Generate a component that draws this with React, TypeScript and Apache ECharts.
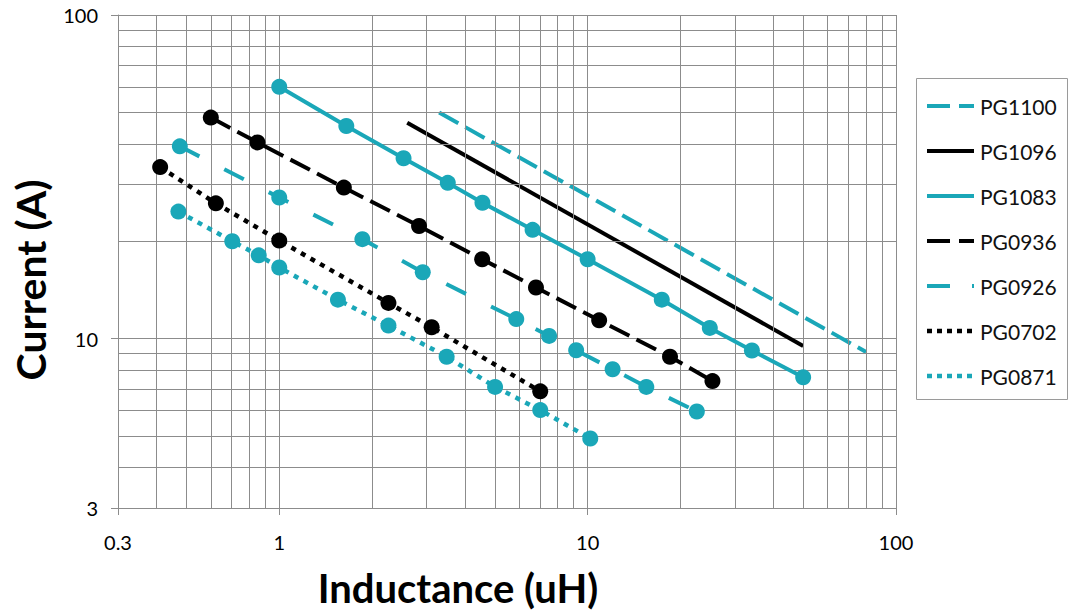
import React, { useEffect, useRef } from "react";
import * as echarts from "echarts";

// ---- data ----
const pg1100X = [3.3, 80];
const pg1100Y = [50, 9.1];
const pg1096X = [2.6, 50];
const pg1096Y = [46.5, 9.5];
const pg1083X = [1, 1.65, 2.53, 3.52, 4.56, 6.63, 10, 17.4, 24.9, 34.1, 50];
const pg1083Y = [60, 45.4, 36.1, 30.3, 26.3, 21.7, 17.6, 13.2, 10.8, 9.2, 7.6];
const pg0936X = [0.6, 0.85, 1.62, 2.84, 4.55, 6.8, 10.9, 18.5, 25.4];
const pg0936Y = [48.2, 40.4, 29.3, 22.3, 17.6, 14.4, 11.4, 8.8, 7.4];
const pg0926X = [0.476, 1, 1.86, 2.92, 5.87, 7.5, 9.18, 12.05, 15.5, 22.6];
const pg0926Y = [39.3, 27.3, 20.3, 16.05, 11.5, 10.2, 9.21, 8.05, 7.1, 5.96];
const pg0702X = [0.411, 0.623, 1, 2.26, 3.12, 7.02];
const pg0702Y = [33.9, 26.2, 20.1, 12.9, 10.85, 6.88];
const pg0871X = [0.471, 0.704, 0.858, 1, 1.55, 2.26, 3.49, 5.01, 7.02, 10.2];
const pg0871Y = [24.7, 20.0, 18.1, 16.6, 13.2, 10.98, 8.8, 7.1, 6.02, 4.92];

const seriesNames = ["PG1100", "PG1096", "PG1083", "PG0936", "PG0926", "PG0702", "PG0871"];

// gridline positions (minor decades)
const minorGridX = [0.4, 0.5, 0.6, 0.7, 0.8, 0.9, 2, 3, 4, 5, 6, 7, 8, 9, 20, 30, 40, 50, 60, 70, 80, 90];
const minorGridY = [4, 5, 6, 7, 8, 9, 20, 30, 40, 50, 60, 70, 80, 90];

const xAxisMin = 0.3;
const xAxisMax = 100;
const yAxisMin = 3;
const yAxisMax = 100;

const TEAL = "#1aa7b8";
const BLACK = "#000000";
const GRID = "#8c8c8c";
const FONT = "Lato, 'Open Sans', sans-serif";

const defs = [
  { name: seriesNames[0], x: pg1100X, y: pg1100Y, color: TEAL, width: 4, dash: [22, 8] as any, legendDash: [23, 9] as any, marker: false },
  { name: seriesNames[1], x: pg1096X, y: pg1096Y, color: BLACK, width: 4, dash: "solid" as any, legendDash: null, marker: false },
  { name: seriesNames[2], x: pg1083X, y: pg1083Y, color: TEAL, width: 4, dash: "solid" as any, legendDash: null, marker: true },
  { name: seriesNames[3], x: pg0936X, y: pg0936Y, color: BLACK, width: 4, dash: [22, 8] as any, legendDash: [23, 9] as any, marker: true },
  { name: seriesNames[4], x: pg0926X, y: pg0926Y, color: TEAL, width: 4, dash: [22, 28] as any, legendDash: [23, 22, 3, 22] as any, marker: true },
  { name: seriesNames[5], x: pg0702X, y: pg0702Y, color: BLACK, width: 4.5, dash: [5, 6] as any, legendDash: [5, 5] as any, marker: true },
  { name: seriesNames[6], x: pg0871X, y: pg0871Y, color: TEAL, width: 4.5, dash: [5, 6] as any, legendDash: [5, 5] as any, marker: true },
];

const fmt = (v: number) => String(Number(Number(v).toPrecision(6)));

export default function App() {
  const ref = useRef<HTMLDivElement>(null);

  useEffect(() => {
    if (!ref.current) return;
    const chart = echarts.init(ref.current, undefined, { renderer: "svg" });

    const gridSeries: any = {
      name: "grid",
      type: "line",
      data: [],
      silent: true,
      z: 1,
      markLine: {
        silent: true,
        symbol: ["none", "none"],
        label: { show: false },
        animation: false,
        lineStyle: { color: GRID, width: 1, type: "solid" },
        emphasis: { disabled: true },
        data: [
          ...minorGridX.map((v) => ({ xAxis: v })),
          ...minorGridY.map((v) => ({ yAxis: v })),
        ],
      },
    };

    const dataSeries = defs.map((d, idx) => ({
      name: d.name,
      type: "line",
      z: 3 + idx,
      data: d.x.map((xv, i) => [xv, d.y[i]]),
      symbol: d.marker ? "circle" : "none",
      symbolSize: 16,
      showSymbol: d.marker,
      showAllSymbol: true,
      lineStyle: { color: d.color, width: d.width, type: d.dash, cap: "butt" },
      itemStyle: { color: d.color },
      emphasis: { disabled: true },
    }));

    const legendTop = 106;
    const legendStep = 45;
    const legendChildren: any[] = [
      {
        type: "rect",
        shape: { x: 916.5, y: 78.5, width: 151, height: 321 },
        style: { fill: "#ffffff", stroke: "#9a9a9a", lineWidth: 1 },
      },
    ];
    defs.forEach((d, i) => {
      const y = legendTop + i * legendStep;
      legendChildren.push({
        type: "line",
        shape: { x1: 927, y1: y, x2: 974, y2: y },
        style: {
          stroke: d.color,
          lineWidth: d.width,
          lineDash: d.legendDash || undefined,
          lineCap: "butt",
        },
      });
      legendChildren.push({
        type: "text",
        x: 980,
        y: y,
        style: {
          text: d.name,
          fontFamily: FONT,
          fontSize: 21,
          fill: "#111111",
          align: "left",
          verticalAlign: "middle",
        },
      });
    });

    chart.setOption({
      animation: false,
      backgroundColor: "#ffffff",
      grid: { left: 118, top: 15, right: 179, bottom: 108, containLabel: false },
      xAxis: {
        type: "log",
        logBase: 10,
        min: xAxisMin,
        max: xAxisMax,
        axisLine: { show: true, lineStyle: { color: GRID, width: 1 } },
        axisTick: { show: true, length: 7, lineStyle: { color: GRID, width: 1 } },
        axisLabel: {
          show: true,
          margin: 24,
          color: "#000",
          fontFamily: FONT,
          fontSize: 20,
          showMinLabel: true,
          showMaxLabel: true,
          formatter: fmt,
        },
        splitLine: { show: true, lineStyle: { color: GRID, width: 1 } },
        minorTick: { show: false },
        minorSplitLine: { show: false },
      },
      yAxis: {
        type: "log",
        logBase: 10,
        min: yAxisMin,
        max: yAxisMax,
        axisLine: { show: true, lineStyle: { color: GRID, width: 1 } },
        axisTick: { show: true, length: 7, lineStyle: { color: GRID, width: 1 } },
        axisLabel: {
          show: true,
          margin: 20,
          color: "#000",
          fontFamily: FONT,
          fontSize: 20,
          showMinLabel: true,
          showMaxLabel: true,
          formatter: fmt,
        },
        splitLine: { show: true, lineStyle: { color: GRID, width: 1 } },
        minorTick: { show: false },
        minorSplitLine: { show: false },
      },
      series: [gridSeries, ...dataSeries],
      graphic: [
        {
          type: "text",
          x: 458,
          y: 588,
          style: {
            text: "Inductance (uH)",
            fontFamily: FONT,
            fontWeight: "bold",
            fontSize: 40,
            fill: "#000",
            align: "center",
            verticalAlign: "middle",
          },
        },
        {
          type: "text",
          x: 30,
          y: 280,
          rotation: Math.PI / 2,
          style: {
            text: "Current (A)",
            fontFamily: FONT,
            fontWeight: "bold",
            fontSize: 41,
            fill: "#000",
            align: "center",
            verticalAlign: "middle",
          },
        },
        { type: "group", children: legendChildren },
      ],
    });

    return () => chart.dispose();
  }, []);

  return (
    <div
      ref={ref}
      style={{ position: "absolute", left: 0, top: 0, width: 1075, height: 616 }}
    />
  );
}
